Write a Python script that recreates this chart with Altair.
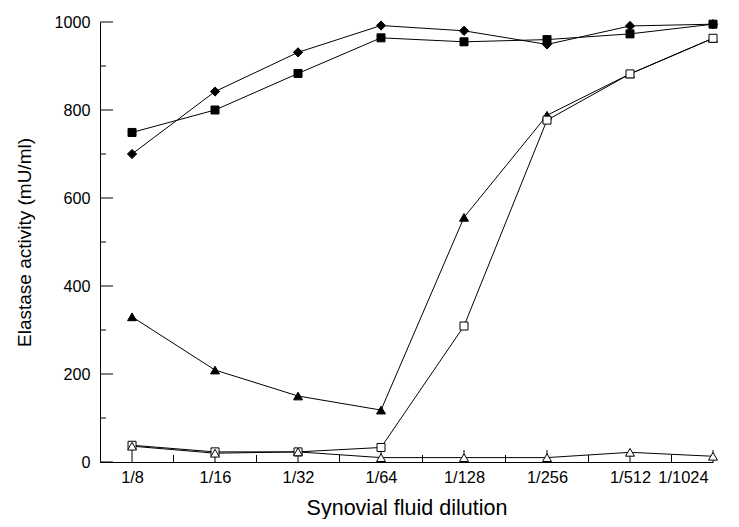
import altair as alt
import pandas as pd

dilutions = ["1/8", "1/16", "1/32", "1/64", "1/128", "1/256", "1/512", "1/1024"]
diamond_filled = [700, 842, 931, 992, 980, 949, 991, 995]
square_filled = [749, 800, 883, 964, 955, 960, 973, 995]
triangle_filled = [330, 209, 150, 118, 556, 788, 882, 963]
square_open = [38, 23, 23, 33, 309, 777, 882, 963]
triangle_open = [36, 20, 23, 10, 10, 10, 22, 13]

y_major = [0, 200, 400, 600, 800, 1000]
y_minor = [100, 300, 500, 700, 900]
x_major = list(range(len(dilutions)))
x_minor = [i + 0.5 for i in range(len(dilutions) - 1)]

series = [
    ("diamond", diamond_filled, "diamond", "black", 85),
    ("square", square_filled, "square", "black", 64),
    ("tri", triangle_filled, "triangle-up", "black", 80),
    ("osquare", square_open, "square", "white", 64),
    ("otri", triangle_open, "triangle-up", "white", 80),
]

W, H = 613, 440
FONT = "Liberation Sans"
xscale = alt.Scale(domain=[-0.386, 7], nice=False, zero=False)
yscale = alt.Scale(domain=[0, 1000], nice=False)

label_expr = "[" + ",".join("'%s'" % d for d in dilutions) + "][round(datum.value)]"
last = len(dilutions) - 1

xaxis = alt.Axis(values=x_major, labelExpr=label_expr, ticks=False, grid=False,
                 title="Synovial fluid dilution", labelPadding=7, titlePadding=12,
                 labelOffset={"condition": {"test": "datum.value == %d" % last, "value": -5}, "value": 0},
                 labelFont=FONT, titleFont=FONT, labelFontSize=16.4, titleFontSize=21.5,
                 titleFontWeight="normal", labelColor="black", titleColor="black",
                 domainColor="black", domainWidth=1)
yaxis = alt.Axis(values=y_major, ticks=False, grid=False, format="d",
                 title="Elastase activity (mU/ml)", labelPadding=10, titlePadding=19,
                 labelFont=FONT, titleFont=FONT, labelFontSize=16.2, titleFontSize=19,
                 titleFontWeight="normal", labelColor="black", titleColor="black",
                 domainColor="black", domainWidth=1)


def X(f):
    return alt.X(f, scale=xscale, axis=xaxis, title="Synovial fluid dilution")


def Y(f):
    return alt.Y(f, scale=yscale, axis=yaxis, title="Elastase activity (mU/ml)")


rows = []
for name, vals, shape, fill, size in series:
    for i, v in enumerate(vals):
        rows.append({"series": name, "idx": i, "value": v})
df = pd.DataFrame(rows)

lines = []
points = []
for name, vals, shape, fill, size in series:
    sub = df[df.series == name]
    lines.append(alt.Chart(sub).mark_line(color="black", strokeWidth=1).encode(
        x=X("idx:Q"), y=Y("value:Q")))
    points.append(alt.Chart(sub).mark_point(shape=shape, filled=True, fill=fill, stroke="black",
                                            strokeWidth=1, size=size, opacity=1).encode(
        x=X("idx:Q"), y=Y("value:Q")))

ymaj = pd.DataFrame({"v": y_major})
ymin = pd.DataFrame({"v": y_minor})
xmaj = pd.DataFrame({"i": x_major})
xmin = pd.DataFrame({"i": x_minor})
ticks = [
    alt.Chart(ymaj).mark_rule(color="black", strokeWidth=1).encode(
        y=Y("v:Q"), x=alt.value(0), x2=alt.value(13)),
    alt.Chart(ymin).mark_rule(color="black", strokeWidth=1).encode(
        y=Y("v:Q"), x=alt.value(0), x2=alt.value(6)),
    alt.Chart(xmaj).mark_rule(color="black", strokeWidth=1).encode(
        x=X("i:Q"), y=alt.value(H), y2=alt.value(H - 12)),
    alt.Chart(xmin).mark_rule(color="black", strokeWidth=1).encode(
        x=X("i:Q"), y=alt.value(H), y2=alt.value(H - 7)),
]

chart = alt.layer(*(lines + ticks + points)).properties(
    width=W, height=H,
    background="white",
    autosize=alt.AutoSizeParams(type="none"),
    padding={"left": 92, "top": 14, "right": 18, "bottom": 57},
).configure_view(strokeWidth=0)

chart.save("out.html", embed_options={"renderer": "svg", "actions": False})
